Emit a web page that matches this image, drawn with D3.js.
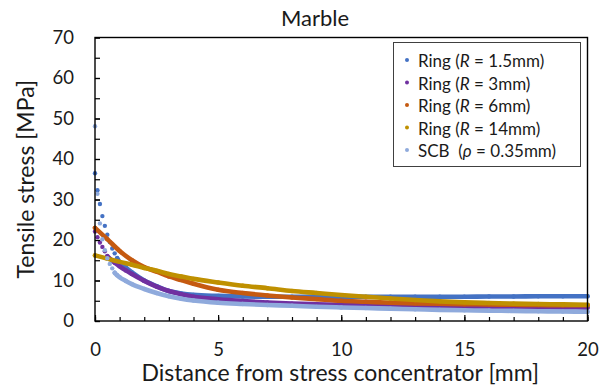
<!DOCTYPE html>
<html>
<head>
<meta charset="utf-8">
<script src="https://cdn.jsdelivr.net/npm/d3@7/dist/d3.min.js"></script>
<style>
  html, body { margin: 0; padding: 0; background: #fff; }
  svg { display: block; font-family: Lato, "Open Sans", sans-serif; }
</style>
</head>
<body>
<svg id="chart" width="607" height="391"></svg>
<script>
// ---------------- DATA ----------------
const seriesNames = ["Ring 1.5", "Ring 3", "Ring 6", "Ring 14", "SCB"];

const ring15Dist   = [0,0.1,0.2,0.3,0.4,0.5,0.6,0.7,0.8,0.9,1,1.25,1.5,2,2.5,3,3.5,4,5,6,7,8,9,10,11,12,13,14,15,16,17,18,19,20];
const ring15Stress = [36.5,32.3,28.9,25.9,23.5,21.3,19.5,17.9,16.7,15.5,14.5,13.2,12.0,10.0,8.6,7.4,6.8,6.45,6.2,6.05,6.0,6.0,6.0,5.95,5.95,6.0,6.0,6.0,6.0,6.05,6.05,6.1,6.1,6.1];

const ring3Dist    = [0,0.1,0.2,0.3,0.4,0.5,0.6,0.8,1,1.25,1.5,2,2.5,3,3.5,4,5,6,7,8,9,10,11,12,13,14,15,16,17,18,19,20];
const ring3Stress  = [22.1,20.7,19.4,18.3,17.2,16.0,15.4,14.4,13.5,12.5,11.6,9.9,8.5,7.4,6.6,6.0,5.35,4.9,4.55,4.3,4.15,4.0,3.9,3.8,3.75,3.65,3.55,3.5,3.45,3.4,3.35,3.3];

const ring6Dist    = [0,0.5,1,1.5,2,2.5,3,3.5,4,5,6,7,8,9,10,11,12,13,14,15,16,17,18,19,20];
const ring6Stress  = [23.0,20.2,17.3,15.0,13.3,12.2,11.0,10.1,9.2,7.7,6.9,6.3,5.8,5.4,5.0,4.75,4.5,4.35,4.25,4.15,4.1,4.0,3.95,3.9,3.9];

const ring14Dist   = [0,0.5,1,1.5,2,2.5,3,3.5,4,5,6,7,8,9,10,11,12,13,14,15,16,17,18,19,20];
const ring14Stress = [16.2,15.4,14.6,13.9,13.1,12.4,11.6,11.0,10.4,9.5,8.7,8.1,7.4,6.9,6.4,6.0,5.55,5.2,4.85,4.6,4.45,4.3,4.2,4.1,4.0];

const scbDist      = [0,0.1,0.2,0.3,0.4,0.5,0.6,0.7,0.8,0.9,1,1.25,1.5,2,2.5,3,3.5,4,5,6,7,8,9,10,11,12,13,14,15,16,17,18,19,20];
const scbStress    = [48.1,31.4,24.1,20.2,17.5,15.5,14.1,13.0,11.9,11.3,10.8,9.9,9.1,7.9,6.9,6.1,5.5,5.05,4.5,4.2,3.95,3.75,3.5,3.35,3.2,3.05,2.9,2.75,2.65,2.55,2.5,2.4,2.35,2.3];

// distance from which the sampled points merge into a continuous band
const bandFrom = [0.9, 0.5, 0, 0, 0.8];

const xTicksMajor = [0, 5, 10, 15, 20];
const yTicksMajor = [0, 10, 20, 30, 40, 50, 60, 70];

// ---------------- STYLE ----------------
const colors = ["#4472C4", "#7030A0", "#C55A11", "#BF9000", "#8FAADC"];

const seriesData = [
  [ring15Dist, ring15Stress],
  [ring3Dist, ring3Stress],
  [ring6Dist, ring6Stress],
  [ring14Dist, ring14Stress],
  [scbDist, scbStress]
].map(([xs, ys], i) => ({
  name: seriesNames[i],
  color: colors[i],
  from: bandFrom[i],
  pts: xs.map((d, j) => ({ d, v: ys[j] }))
}));

const svg = d3.select("#chart");
const L = 95, R = 587.5, T = 37.5, B = 321;

const x = d3.scaleLinear().domain([0, 20]).range([L, R]);
const y = d3.scaleLinear().domain([0, 70]).range([B, T]);

// Title
svg.append("text")
  .attr("x", 315).attr("y", 26)
  .attr("text-anchor", "middle")
  .style("font-size", "22px").attr("fill", "#1a1a1a")
  .text("Marble");

// Series
const plot = svg.append("g");
const line = d3.line().x(p => x(p.d)).y(p => y(p.v)).curve(d3.curveMonotoneX);
seriesData.forEach(s => {
  const band = s.pts.filter(p => p.d >= s.from);
  plot.append("path")
    .attr("d", line(band))
    .attr("fill", "none")
    .attr("stroke", s.color)
    .attr("stroke-width", 4.6)
    .attr("stroke-linecap", "round")
    .attr("stroke-linejoin", "round");
  plot.selectAll(null).data(s.pts).enter().append("circle")
    .attr("cx", p => x(p.d)).attr("cy", p => y(p.v))
    .attr("r", 2.2).attr("fill", s.color);
});

// Axes
const axisFont = "18.5px";
const gx = svg.append("g").attr("transform", `translate(0,${B})`)
  .call(d3.axisBottom(x).tickValues(d3.range(0, 21, 1)).tickSize(-4).tickFormat(""));
const gx2 = svg.append("g").attr("transform", `translate(0,${B})`)
  .call(d3.axisBottom(x).tickValues(xTicksMajor).tickSize(-6).tickPadding(22).tickFormat(d3.format("d")));
const gy = svg.append("g").attr("transform", `translate(${L},0)`)
  .call(d3.axisLeft(y).tickValues(d3.range(0, 71, 5)).tickSize(-5).tickFormat(""));
const gy2 = svg.append("g").attr("transform", `translate(${L},0)`)
  .call(d3.axisLeft(y).tickValues(yTicksMajor).tickSize(-5).tickPadding(21).tickFormat(d3.format("d")));

[gx, gx2, gy, gy2].forEach(g => {
  g.select(".domain").remove();
  g.selectAll(".tick line").attr("stroke", "#000").attr("stroke-width", 1.2);
  g.selectAll(".tick text").style("font-size", axisFont).style("font-family", "Lato").attr("fill", "#1a1a1a");
});

// Frame
svg.append("rect")
  .attr("x", L).attr("y", T).attr("width", R - L).attr("height", B - T)
  .attr("fill", "none").attr("stroke", "#000").attr("stroke-width", 1.4);

// Axis titles
svg.append("text")
  .attr("x", (L + R) / 2 - 1).attr("y", 381)
  .attr("text-anchor", "middle")
  .style("font-size", "23px").attr("fill", "#1a1a1a")
  .text("Distance from stress concentrator [mm]");

svg.append("text")
  .attr("transform", `translate(25,${(T + B) / 2 + 0}) rotate(-90)`)
  .attr("text-anchor", "middle")
  .attr("dominant-baseline", "central")
  .style("font-size", "23px").attr("fill", "#1a1a1a")
  .text("Tensile stress [MPa]");

// Legend
const legend = svg.append("g");
legend.append("rect")
  .attr("x", 393.5).attr("y", 42.5).attr("width", 187).attr("height", 124)
  .attr("fill", "#fff").attr("stroke", "#404040").attr("stroke-width", 1);

const legendItems = [
  { pre: "Ring (", it: "R", post: " = 1.5mm)" },
  { pre: "Ring (", it: "R", post: " = 3mm)" },
  { pre: "Ring (", it: "R", post: " = 6mm)" },
  { pre: "Ring (", it: "R", post: " = 14mm)" },
  { pre: "SCB  (", it: "\u03C1", post: " = 0.35mm)" }
];
legendItems.forEach((it, i) => {
  const cy = 60 + i * 22.5;
  legend.append("circle").attr("cx", 407).attr("cy", cy).attr("r", 2).attr("fill", colors[i]);
  const t = legend.append("text")
    .attr("x", 418).attr("y", cy)
    .attr("dominant-baseline", "central")
    .style("font-size", "17px").attr("fill", "#1a1a1a")
    .attr("xml:space", "preserve");
  t.append("tspan").text(it.pre);
  t.append("tspan").style("font-style", "italic").text(it.it);
  t.append("tspan").text(it.post);
});
</script>
</body>
</html>
